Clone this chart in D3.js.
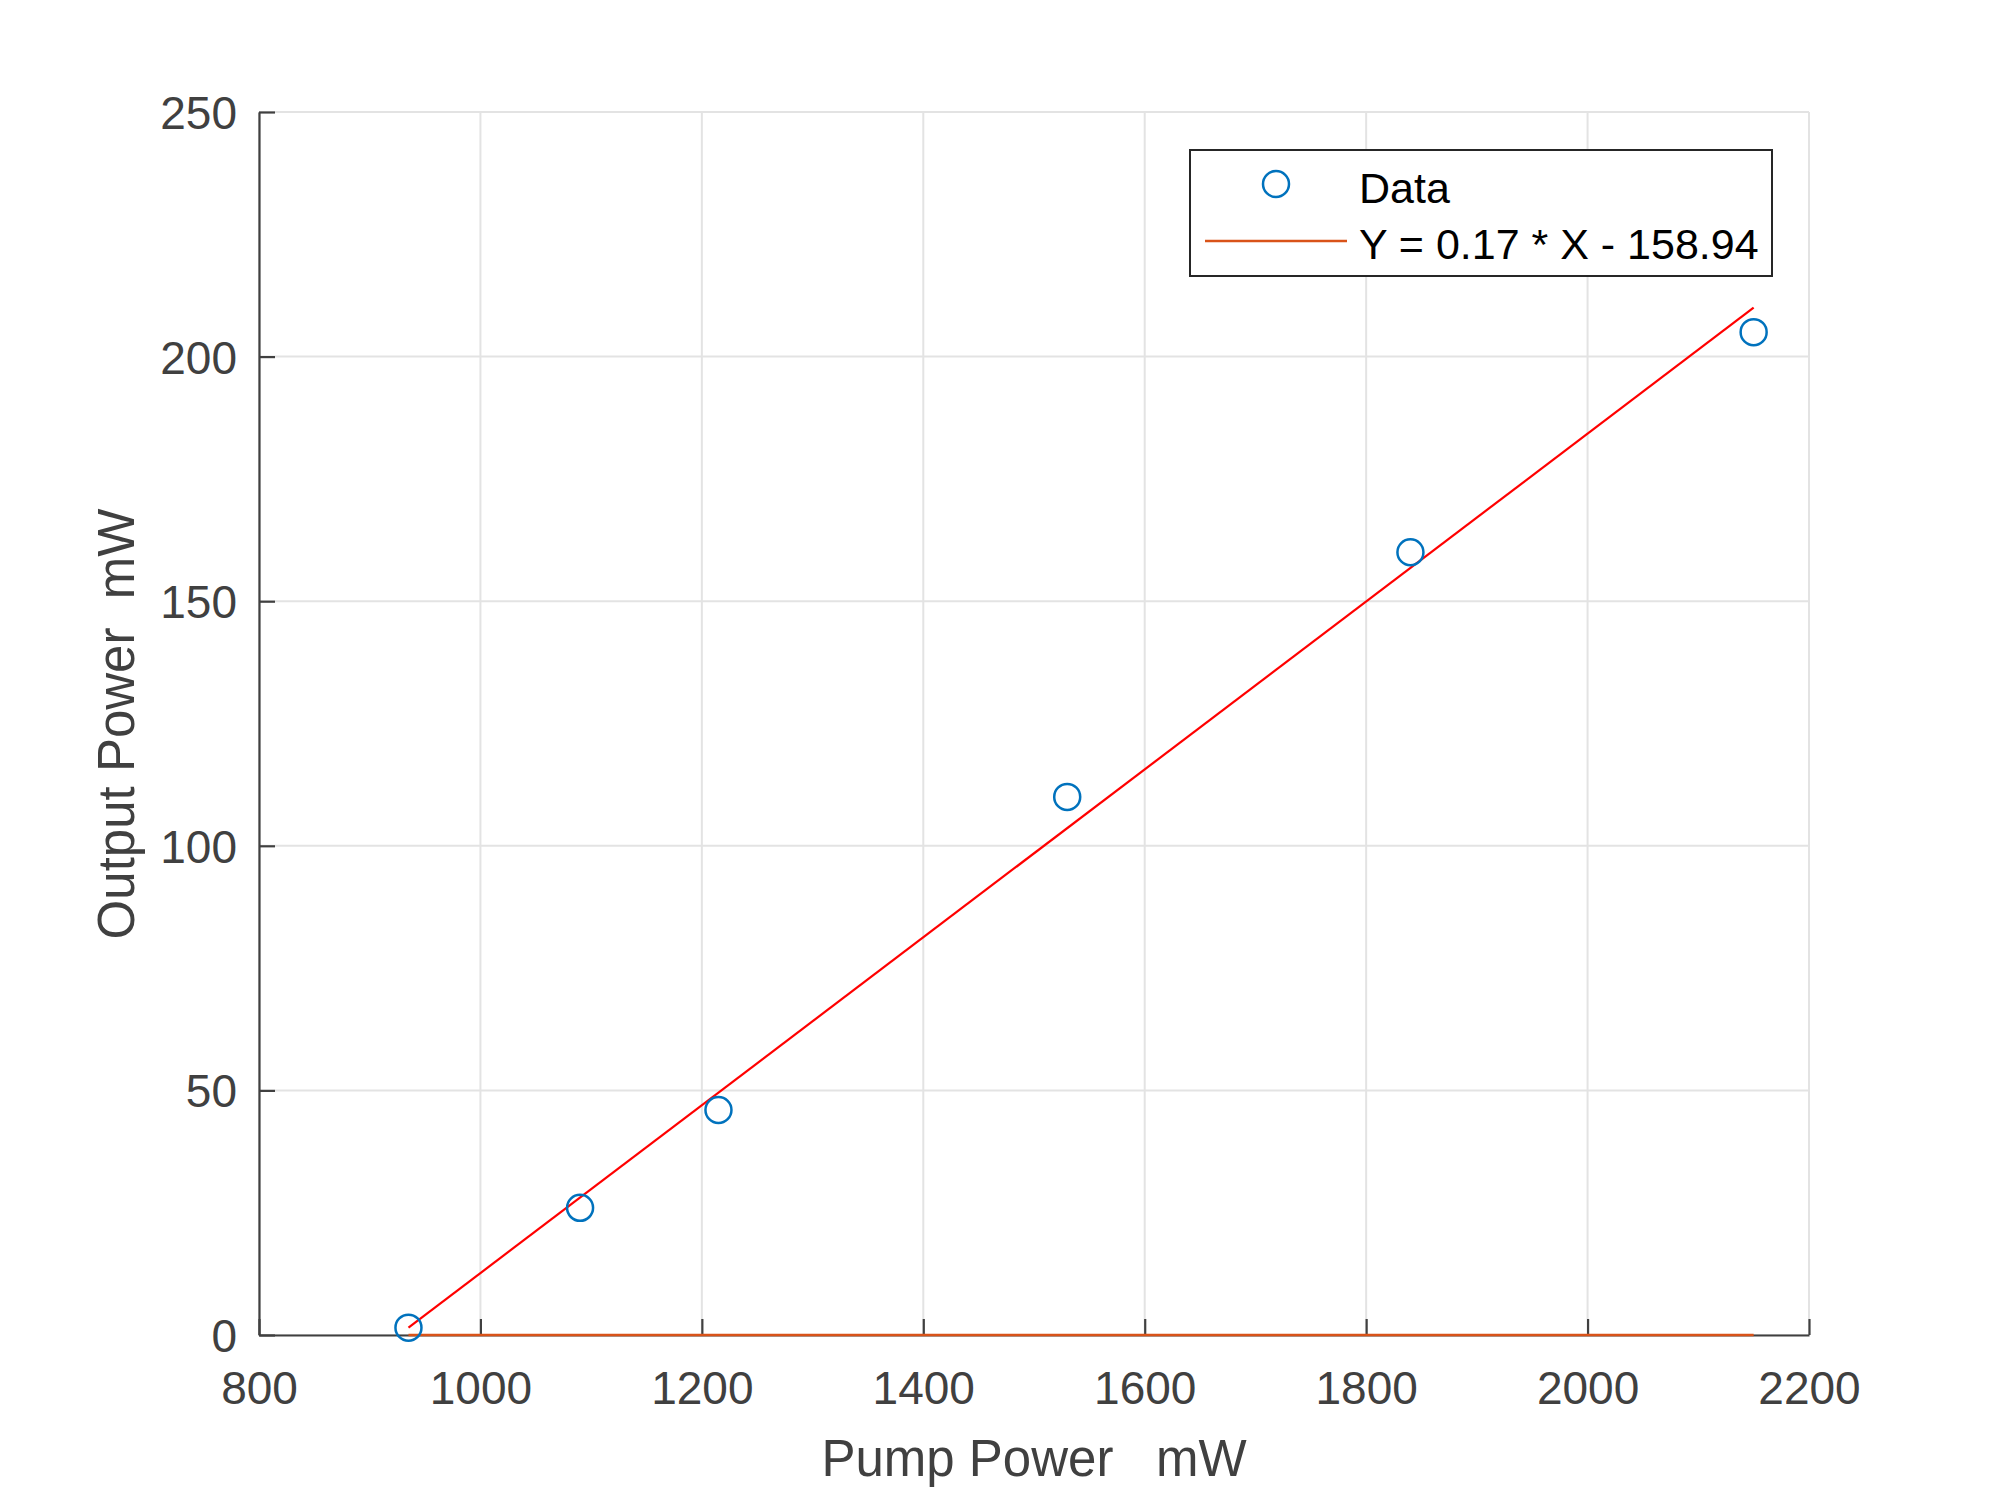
<!DOCTYPE html>
<html>
<head>
<meta charset="utf-8">
<script src="https://cdn.jsdelivr.net/npm/d3@7"></script>
<style>
  body { margin: 0; background: #fff; }
  svg { display: block; font-family: Arial, "Liberation Sans", sans-serif; }
</style>
</head>
<body>
<svg id="chart" width="2000" height="1504"></svg>
<script>
// measured pump / output power
var pumpPower = [935, 1090, 1215, 1530, 1840, 2150];
var outputPower = [1.5, 26, 46, 110, 160, 205];

// red fit line end points
var fitX = [935, 2150];
var fitY = [1.5, 210];

// orange legend series drawn along zero
var zeroX = [935, 2150];
var zeroY = [0, 0];

var xTicks = [800, 1000, 1200, 1400, 1600, 1800, 2000, 2200];
var yTicks = [0, 50, 100, 150, 200, 250];
var legendLabels = ['Data', 'Y = 0.17 * X - 158.94'];

var svg = d3.select('#chart');
var margin = {left: 259, right: 191, top: 112, bottom: 169};
var width = 2000 - margin.left - margin.right;
var height = 1504 - margin.top - margin.bottom;

var x = d3.scaleLinear().domain([800, 2200]).range([0, width]);
var y = d3.scaleLinear().domain([0, 250]).range([height, 0]);

var AXIS = '#404040';
var g = svg.append('g').attr('transform', 'translate(' + margin.left + ',' + margin.top + ')');

// grid
g.append('g').selectAll('line').data(xTicks).enter().append('line')
    .attr('x1', function(d) { return x(d); })
    .attr('x2', function(d) { return x(d); })
    .attr('y1', 0).attr('y2', height)
    .attr('stroke', '#e3e3e3').attr('stroke-width', 2);
g.append('g').selectAll('line').data(yTicks).enter().append('line')
    .attr('y1', function(d) { return y(d); })
    .attr('y2', function(d) { return y(d); })
    .attr('x1', 0).attr('x2', width)
    .attr('stroke', '#e3e3e3').attr('stroke-width', 2);

// axes
var fmt = d3.format('d');
var xAxis = g.append('g').attr('transform', 'translate(0,' + height + ')')
    .call(d3.axisBottom(x).tickValues(xTicks).tickFormat(fmt)
      .tickSizeInner(-16).tickSizeOuter(0).tickPadding(36));
var yAxis = g.append('g')
    .call(d3.axisLeft(y).tickValues(yTicks).tickFormat(fmt)
      .tickSizeInner(-16).tickSizeOuter(0).tickPadding(22));
[xAxis, yAxis].forEach(function(a) {
  a.select('.domain').attr('stroke', AXIS).attr('stroke-width', 2.2);
  a.selectAll('.tick line').attr('stroke', AXIS).attr('stroke-width', 2.2);
  a.selectAll('.tick text').attr('fill', AXIS).style('font-size', '46px')
      .style('font-family', 'Arial, "Liberation Sans", sans-serif');
});
yAxis.selectAll('.tick text').attr('dy', '0.36em');

// orange zero series
var line = d3.line()
    .x(function(d) { return x(d[0]); })
    .y(function(d) { return y(d[1]); });
g.append('path').datum(d3.zip(zeroX, zeroY)).attr('d', line)
    .attr('fill', 'none').attr('stroke', '#D95319').attr('stroke-width', 2.5);

// red fit line
g.append('path').datum(d3.zip(fitX, fitY)).attr('d', line)
    .attr('fill', 'none').attr('stroke', '#FF0000').attr('stroke-width', 2.2);

// data circles
g.append('g').selectAll('circle').data(d3.zip(pumpPower, outputPower)).enter().append('circle')
    .attr('cx', function(d) { return x(d[0]); })
    .attr('cy', function(d) { return y(d[1]); })
    .attr('r', 13)
    .attr('fill', 'none').attr('stroke', '#0072BD').attr('stroke-width', 2.5);

// axis labels
svg.append('text').attr('x', 1034).attr('y', 1476).attr('text-anchor', 'middle')
    .attr('fill', AXIS).style('font-size', '51px').style('white-space', 'pre')
    .text('Pump Power \u00a0 mW');
svg.append('text').attr('transform', 'translate(134,724) rotate(-90)').attr('text-anchor', 'middle')
    .attr('fill', AXIS).style('font-size', '51px').style('white-space', 'pre')
    .text('Output Power \u00a0mW');

// legend
var lg = svg.append('g').attr('transform', 'translate(1190,150)');
lg.append('rect').attr('width', 582).attr('height', 126)
    .attr('fill', '#fff').attr('stroke', '#262626').attr('stroke-width', 2);
lg.append('circle').attr('cx', 86).attr('cy', 34).attr('r', 13)
    .attr('fill', 'none').attr('stroke', '#0072BD').attr('stroke-width', 2.5);
lg.append('line').attr('x1', 15).attr('x2', 157).attr('y1', 91).attr('y2', 91)
    .attr('stroke', '#D95319').attr('stroke-width', 2.5);
lg.selectAll('text.lbl').data(legendLabels).enter().append('text')
    .attr('class', 'lbl')
    .attr('x', 169)
    .attr('y', function(d, i) { return 53 + i * 56; })
    .attr('fill', '#000').style('font-size', '43px')
    .text(function(d) { return d; });
</script>
</body>
</html>
